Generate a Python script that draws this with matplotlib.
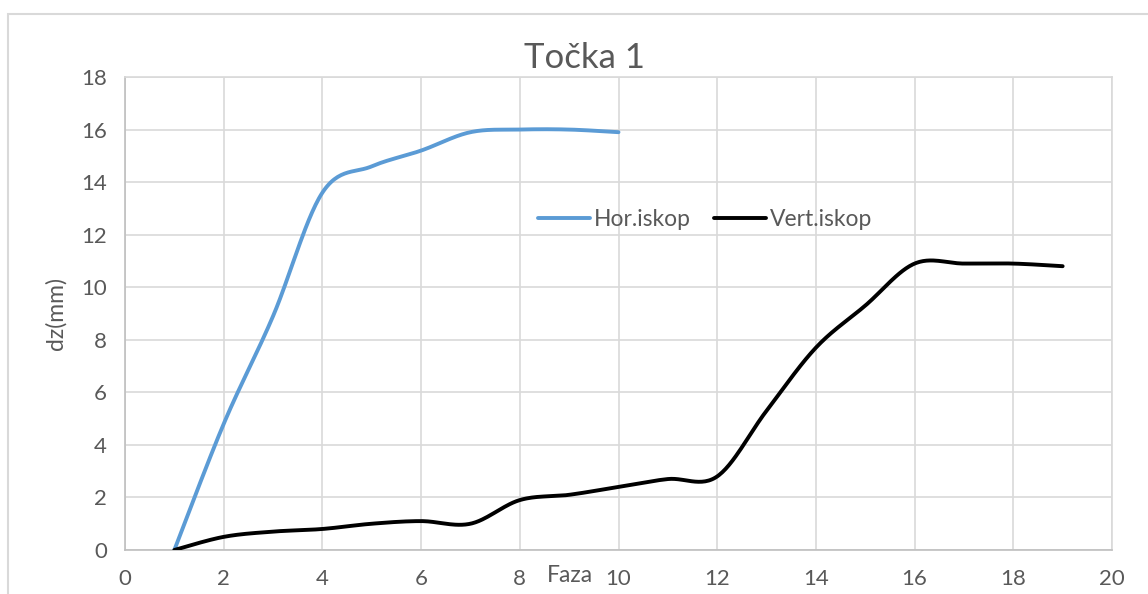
import numpy as np
import matplotlib.pyplot as plt
from matplotlib.patches import Rectangle

# phase numbers and settlement values (mm)
faza_hor = [1, 2, 3, 4, 5, 6, 7, 8, 9, 10]
dz_hor = [0.0, 4.8, 8.9, 13.6, 14.6, 15.2, 15.9, 16.0, 16.0, 15.9]

faza_vert = [1, 2, 3, 4, 5, 6, 7, 8, 9, 10, 11, 12, 13, 14, 15, 16, 17, 18, 19]
dz_vert = [0.0, 0.5, 0.7, 0.8, 1.0, 1.1, 1.0, 1.9, 2.1, 2.4, 2.7, 2.8,
           5.3, 7.7, 9.3, 10.9, 10.9, 10.9, 10.8]

x_ticks = list(range(0, 21, 2))
y_ticks = list(range(0, 19, 2))


def smooth(xs, ys, n=30):
    # bezier smoothing like spreadsheet "smoothed line" (catmull-rom)
    p = np.column_stack([xs, ys]).astype(float)
    p = np.vstack([p[0], p, p[-1]])
    out = []
    t = np.linspace(0, 1, n)[:, None]
    for i in range(1, len(p) - 2):
        p0, p1, p2, p3 = p[i - 1], p[i], p[i + 1], p[i + 2]
        c1 = p1 + (p2 - p0) / 6
        c2 = p2 - (p3 - p1) / 6
        seg = ((1 - t) ** 3) * p1 + 3 * ((1 - t) ** 2) * t * c1 \
            + 3 * (1 - t) * t ** 2 * c2 + t ** 3 * p2
        out.append(seg)
    out = np.vstack(out)
    return out[:, 0], out[:, 1]


plt.rcParams['font.family'] = ['Lato', 'DejaVu Sans']
txt = '#595959'
grid = '#d9d9d9'

fig = plt.figure(figsize=(11.48, 5.94), dpi=100)
fig.patches.append(Rectangle((8 / 1148, -0.1), 1.2, (594 - 14) / 594 + 0.1,
                             transform=fig.transFigure, fill=False,
                             edgecolor=grid, linewidth=1.5))

ax = fig.add_axes([125 / 1148, 44 / 594, 987 / 1148, 473 / 594])

hx, hy = smooth(faza_hor, dz_hor)
vx, vy = smooth(faza_vert, dz_vert)
ax.plot(hx, hy, color='#5B9BD5', linewidth=2.8, solid_capstyle='round',
        label='Hor.iskop', zorder=3)
ax.plot(vx, vy, color='black', linewidth=2.8, solid_capstyle='round',
        label='Vert.iskop', zorder=3)

ax.set_xlim(0, 20)
ax.set_ylim(0, 18)
ax.set_xticks(x_ticks)
ax.set_yticks(y_ticks)
ax.grid(True, color=grid, linewidth=1.2)
ax.set_axisbelow(True)
for s in ['top', 'right']:
    ax.spines[s].set_color(grid)
    ax.spines[s].set_linewidth(1.2)
for s in ['left', 'bottom']:
    ax.spines[s].set_color('#bfbfbf')
    ax.spines[s].set_linewidth(1.2)
ax.tick_params(length=0, labelsize=16, labelcolor=txt, pad=14)
ax.tick_params(axis='y', pad=13)

fig.text(585 / 1148, (594 - 58) / 594, 'Točka 1', fontsize=25, color=txt,
         ha='center', va='center')
fig.text(56 / 1148, (594 - 313) / 594, 'dz(mm)', fontsize=16.5, color=txt,
         ha='center', va='center', rotation=90)
fig.text(570 / 1148, (594 - 576) / 594, 'Faza', fontsize=16.5, color=txt,
         ha='center', va='center')

ax.legend(loc='center', bbox_to_anchor=(705 / 1148, (594 - 220) / 594),
          bbox_transform=fig.transFigure, ncol=2, frameon=False,
          fontsize=16.5, labelcolor=txt, handlelength=2.3, handletextpad=0.15,
          columnspacing=1.0)

fig.savefig('out.png', dpi=100)
